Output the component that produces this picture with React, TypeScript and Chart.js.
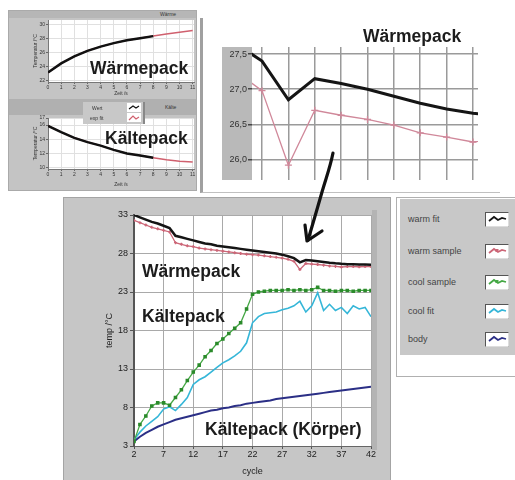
import React, { useEffect, useRef } from "react";
import { Chart, registerables } from "chart.js";

Chart.register(...registerables);

// ---------- main chart data (cycle 2..42) ----------
const cycles = [2, 3, 4, 5, 6, 7, 8, 9, 10, 11, 12, 13, 14, 15, 16, 17, 18, 19, 20, 21, 22, 23, 24, 25, 26, 27, 28, 29, 30, 31, 32, 33, 34, 35, 36, 37, 38, 39, 40, 41, 42];
const warmFit = [33.0, 32.7, 32.4, 32.1, 31.9, 31.6, 31.3, 30.3, 30.1, 29.9, 29.7, 29.5, 29.3, 29.2, 29.0, 28.9, 28.8, 28.7, 28.6, 28.5, 28.4, 28.3, 28.2, 28.1, 28.0, 27.85, 27.65, 27.4, 26.85, 27.15, 27.08, 27.0, 26.9, 26.8, 26.72, 26.66, 26.62, 26.6, 26.58, 26.56, 26.55];
const warmSample = [32.3, 32.0, 31.7, 31.4, 31.2, 31.0, 30.8, 29.4, 29.2, 29.0, 28.9, 28.7, 28.6, 28.5, 28.4, 28.3, 28.2, 28.1, 28.0, 27.9, 27.85, 27.8, 27.7, 27.6, 27.5, 27.4, 27.25, 26.98, 25.92, 26.7, 26.63, 26.57, 26.49, 26.38, 26.32, 26.25, 26.3, 26.3, 26.28, 26.3, 26.3];
const coolSample = [3.6, 5.8, 6.9, 8.2, 8.6, 8.6, 8.3, 9.3, 10.3, 11.5, 12.6, 13.5, 14.6, 15.4, 16.3, 16.9, 17.6, 18.3, 19.0, 20.8, 22.7, 23.0, 23.1, 23.2, 23.2, 23.2, 23.3, 23.2, 23.3, 23.2, 23.3, 23.6, 23.2, 23.2, 23.1, 23.2, 23.2, 23.1, 23.2, 23.2, 23.2];
const coolFit = [3.8, 4.8, 5.6, 6.2, 6.8, 7.8, 8.1, 7.6, 8.4, 9.3, 11.0, 11.6, 12.0, 12.6, 13.2, 13.8, 14.2, 14.7, 15.3, 16.4, 19.0, 19.8, 20.2, 20.3, 20.4, 20.7, 20.9, 21.2, 21.8, 20.4, 21.2, 22.9, 20.6, 21.4, 20.6, 21.0, 20.2, 21.2, 20.8, 21.0, 19.8];
const body = [3.6, 4.2, 4.7, 5.1, 5.5, 5.8, 6.1, 6.4, 6.6, 6.8, 7.0, 7.2, 7.4, 7.6, 7.7, 7.9, 8.0, 8.2, 8.3, 8.5, 8.6, 8.7, 8.8, 8.9, 9.1, 9.2, 9.3, 9.4, 9.5, 9.6, 9.7, 9.8, 9.9, 10.0, 10.1, 10.2, 10.3, 10.4, 10.5, 10.6, 10.7];
const mainXTicks = [2, 7, 12, 17, 22, 27, 32, 37, 42];
const mainYTicks = [3, 8, 13, 18, 23, 28, 33];

// ---------- zoomed warm chart ----------
const zoomXTicks = [29, 30, 31, 32, 33, 34, 35, 36, 37];
const zoomYTicks = [26.0, 26.5, 27.0, 27.5];

// ---------- small top-left charts (time /s) ----------
const timeS = [0, 1, 2, 3, 4, 5, 6, 7, 8, 9, 10, 11];
const warmMeas = [23.2, 24.5, 25.5, 26.3, 26.9, 27.4, 27.8, 28.1, 28.4];
const warmExp = [23.2, 24.5, 25.5, 26.3, 26.9, 27.4, 27.8, 28.1, 28.4, 28.7, 28.95, 29.2];
const coolMeas = [15.9, 15.0, 14.2, 13.6, 13.1, 12.5, 12.0, 11.7, 11.4];
const coolExp = [15.9, 15.0, 14.2, 13.6, 13.1, 12.5, 12.0, 11.7, 11.4, 11.1, 10.9, 10.8];
const warmYTicks = [22, 24, 26, 28, 30];
const coolYTicks = [10, 12, 14, 16, 17];

// ---------- legend ----------
const seriesLabels = ["warm fit", "warm sample", "cool sample", "cool fit", "body"];
const seriesColors = ["#151515", "#cc6677", "#45a845", "#35b6d8", "#2b2f86"];

const pts = (xs: number[], ys: number[]) => ys.map((y, i) => ({ x: xs[i], y }));
const setTicks = (vals: number[]) => (s: any) => {
  s.ticks = vals.map((v) => ({ value: v }));
};

const bgPlugin = {
  id: "bgPlugin",
  beforeDraw(chart: any, _a: any, opts: any) {
    const { ctx, chartArea: a } = chart;
    ctx.save();
    if (opts.band) {
      ctx.fillStyle = opts.band;
      ctx.fillRect(a.left - opts.bandWidth, a.top, opts.bandWidth, a.bottom - a.top);
    }
    if (opts.plot) {
      ctx.fillStyle = opts.plot;
      ctx.fillRect(a.left, a.top, a.right - a.left, a.bottom - a.top);
    }
    ctx.restore();
  },
};

function ChartCanvas(props: { left: number; top: number; width: number; height: number; make: () => any }) {
  const ref = useRef<HTMLCanvasElement>(null);
  useEffect(() => {
    const chart = new Chart(ref.current as HTMLCanvasElement, props.make());
    return () => chart.destroy();
  }, []);
  return (
    <canvas
      ref={ref}
      width={props.width}
      height={props.height}
      style={{ position: "absolute", left: props.left, top: props.top, width: props.width, height: props.height }}
    />
  );
}

const tickFont = { family: "'Liberation Sans', Arial, sans-serif", size: 9 };

function mainConfig() {
  return {
    type: "line",
    data: {
      datasets: [
        { label: seriesLabels[0], data: pts(cycles, warmFit), borderColor: seriesColors[0], borderWidth: 2.5, pointRadius: 0 },
        { label: seriesLabels[1], data: pts(cycles, warmSample), borderColor: seriesColors[1], borderWidth: 1.3, pointRadius: 1.5, pointStyle: "cross", pointBorderColor: seriesColors[1] },
        { label: seriesLabels[2], data: pts(cycles, coolSample), borderColor: seriesColors[2], borderWidth: 1.3, pointRadius: 1.6, pointStyle: "rect", pointBackgroundColor: "#2b8a2b", pointBorderColor: "#2b8a2b" },
        { label: seriesLabels[3], data: pts(cycles, coolFit), borderColor: seriesColors[3], borderWidth: 1.6, pointRadius: 0 },
        { label: seriesLabels[4], data: pts(cycles, body), borderColor: seriesColors[4], borderWidth: 2, pointRadius: 0 },
      ],
    },
    plugins: [bgPlugin],
    options: {
      animation: false,
      responsive: false,
      devicePixelRatio: 1,
      layout: { padding: { left: 36, top: 18, right: 19, bottom: 0 } },
      plugins: { legend: { display: false }, tooltip: { enabled: false }, bgPlugin: { plot: "#ffffff" } },
      scales: {
        x: {
          type: "linear",
          min: 2,
          max: 42,
          afterBuildTicks: setTicks(mainXTicks),
          afterFit: (s: any) => { s.height = 34; },
          ticks: { font: tickFont, color: "#222", padding: 0, maxRotation: 0, autoSkip: false },
          grid: { color: "#a9a9a9", lineWidth: 1, tickLength: 3, tickColor: "#555" },
          border: { color: "#666", width: 1 },
          title: { display: true, text: "cycle", font: tickFont, color: "#222", padding: { top: 0, bottom: 3 } },
        },
        y: {
          type: "linear",
          min: 3,
          max: 33,
          afterBuildTicks: setTicks(mainYTicks),
          afterFit: (s: any) => { s.width = 35; },
          ticks: { font: tickFont, color: "#222", padding: 2 },
          grid: { color: "#a9a9a9", lineWidth: 1, tickLength: 4, tickColor: "#555" },
          border: { color: "#555", width: 2 },
          title: { display: true, text: "temp /°C", font: tickFont, color: "#222", padding: { top: 5, bottom: 0 } },
        },
      },
    },
  };
}

function zoomConfig() {
  return {
    type: "line",
    data: {
      datasets: [
        { label: seriesLabels[0], data: pts(cycles, warmFit), borderColor: "#151515", borderWidth: 3, pointRadius: 0 },
        { label: seriesLabels[1], data: pts(cycles, warmSample), borderColor: "#d0889a", borderWidth: 1.3, pointRadius: 3.5, pointStyle: "cross", pointBorderColor: "#d0889a", pointBorderWidth: 1.3 },
      ],
    },
    plugins: [bgPlugin],
    options: {
      animation: false,
      responsive: false,
      devicePixelRatio: 1,
      layout: { padding: { left: 19, top: 27, right: 22, bottom: 0 } },
      plugins: { legend: { display: false }, tooltip: { enabled: false }, bgPlugin: { band: "#b9b9b9", bandWidth: 30 } },
      scales: {
        x: {
          type: "linear",
          min: 28.62,
          max: 37.19,
          afterBuildTicks: setTicks(zoomXTicks),
          afterFit: (s: any) => { s.height = 11; },
          ticks: { display: false },
          grid: { color: "#9a9a9a", lineWidth: 1.5, drawTicks: false },
          border: { display: false },
        },
        y: {
          type: "linear",
          min: 25.71,
          max: 27.6,
          afterBuildTicks: setTicks(zoomYTicks),
          afterFit: (s: any) => { s.width = 30; },
          ticks: { font: { family: "'Liberation Sans', Arial, sans-serif", size: 9 }, color: "#333", padding: 1, callback: (v: any) => Number(v).toFixed(1).replace(".", ",") },
          grid: { color: "#9a9a9a", lineWidth: 1.5, tickLength: 4, tickColor: "#444" },
          border: { display: false },
        },
      },
    },
  };
}

const smallFont = { family: "'Liberation Sans', Arial, sans-serif", size: 5 };

function smallConfig(meas: number[], exp: number[], yMin: number, yMax: number, yTicks: number[], topPad: number, xH: number) {
  return () => ({
    type: "line",
    data: {
      datasets: [
        { label: "Wert", data: pts(timeS, meas), borderColor: "#111", borderWidth: 2.5, pointRadius: 0 },
        { label: "exp fit", data: pts(timeS, exp), borderColor: "#d0606e", borderWidth: 1.5, pointRadius: 0 },
      ],
    },
    plugins: [bgPlugin],
    options: {
      animation: false,
      responsive: false,
      devicePixelRatio: 1,
      layout: { padding: { left: 24, top: topPad, right: 3, bottom: 0 } },
      plugins: { legend: { display: false }, tooltip: { enabled: false }, bgPlugin: { plot: "#ffffff" } },
      scales: {
        x: {
          type: "linear",
          min: 0,
          max: 11.1,
          afterBuildTicks: setTicks(timeS),
          afterFit: (s: any) => { s.height = xH; },
          ticks: { font: smallFont, color: "#333", padding: 1, maxRotation: 0, autoSkip: false },
          grid: { color: "#e0e0e0", lineWidth: 1, tickLength: 2, tickColor: "#666" },
          border: { color: "#777" },
          title: { display: true, text: "Zeit /s", font: smallFont, color: "#333", padding: { top: 1, bottom: 3 } },
        },
        y: {
          type: "linear",
          min: yMin,
          max: yMax,
          afterBuildTicks: setTicks(yTicks),
          afterFit: (s: any) => { s.width = 16; },
          ticks: { font: smallFont, color: "#333", padding: 1 },
          grid: { color: "#e0e0e0", lineWidth: 1, tickLength: 2, tickColor: "#666" },
          border: { color: "#777" },
          title: { display: true, text: "Temperatur /°C", font: smallFont, color: "#333", padding: { top: 1, bottom: 0 } },
        },
      },
    },
  });
}

const annot: React.CSSProperties = {
  position: "absolute",
  fontFamily: "'Liberation Sans', Arial, sans-serif",
  fontWeight: 700,
  fontSize: 17.5,
  color: "#1c1c1c",
  whiteSpace: "nowrap",
  lineHeight: 1,
};

function LegendIcon({ color, marker }: { color: string; marker?: boolean }) {
  return (
    <svg width={24} height={15} style={{ position: "absolute", left: 86, top: -2 }}>
      <rect x={0.5} y={0.5} width={23} height={14} fill="#fff" stroke="#555" strokeWidth={1} />
      <line x1={0.5} y1={14.5} x2={23.5} y2={14.5} stroke="#ddd" />
      <line x1={23.5} y1={0.5} x2={23.5} y2={14.5} stroke="#ddd" />
      <polyline points="4,9 9,5 13,8 17,6 21,7" fill="none" stroke={color} strokeWidth={1.8} />
      {marker ? <rect x={10.5} y={5} width={3} height={3} fill={color} /> : null}
    </svg>
  );
}

export default function App() {
  const legendRows = [220, 252, 283, 312, 340];
  return (
    <div style={{ position: "absolute", left: 0, top: 0, width: 515, height: 480, background: "#fff", overflow: "hidden" }}>
      {/* top-left panel */}
      <div style={{ position: "absolute", left: 8, top: 10, width: 189, height: 181, background: "#c4c4c4", border: "1px solid #aaa", boxSizing: "border-box" }} />
      <div style={{ position: "absolute", left: 9, top: 11, width: 187, height: 7, background: "#b6b6b6" }} />
      <div style={{ position: "absolute", left: 160, top: 11, fontSize: 5, fontFamily: "'Liberation Sans', Arial", color: "#333" }}>Wärme</div>
      <div style={{ position: "absolute", left: 9, top: 99, width: 187, height: 16, background: "#b0b0b0" }} />
      <div style={{ position: "absolute", left: 165, top: 104, fontSize: 5, fontFamily: "'Liberation Sans', Arial", color: "#333" }}>Kälte</div>
      <ChartCanvas left={8} top={10} width={189} height={90} make={smallConfig(warmMeas, warmExp, 21.85, 30.7, warmYTicks, 10, 18)} />
      <ChartCanvas left={8} top={100} width={189} height={91} make={smallConfig(coolMeas, coolExp, 9.8, 17, coolYTicks, 18, 22)} />
      <div style={{ ...annot, left: 90, top: 60 }}>Wärmepack</div>
      <div style={{ ...annot, left: 105, top: 130 }}>Kältepack</div>
      {/* small legend box */}
      <div style={{ position: "absolute", left: 83, top: 102, width: 62, height: 22, background: "#c8c8c8", borderRight: "2px solid #888", boxSizing: "border-box", fontFamily: "'Liberation Sans', Arial", fontSize: 5, color: "#333" }}>
        <div style={{ position: "absolute", left: 9, top: 3 }}>Wert</div>
        <div style={{ position: "absolute", left: 7, top: 13 }}>exp fit</div>
        <svg width={14} height={20} style={{ position: "absolute", left: 44, top: 1 }}>
          <rect x={0} y={0} width={14} height={9} fill="#fff" />
          <rect x={0} y={10} width={14} height={9} fill="#fff" />
          <polyline points="2,6 6,3 9,5 12,3" fill="none" stroke="#111" strokeWidth={1.2} />
          <polyline points="2,17 6,13 9,16 12,14" fill="none" stroke="#d0606e" strokeWidth={1.2} />
        </svg>
      </div>

      {/* top-right zoom chart */}
      <div style={{ position: "absolute", left: 200, top: 18, width: 300, height: 175, borderLeft: "3px solid #a0a0a0", borderBottom: "1px solid #c0c0c0", boxSizing: "border-box" }} />
      <ChartCanvas left={203} top={20} width={297} height={171} make={zoomConfig} />
      <div style={{ ...annot, left: 363, top: 28 }}>Wärmepack</div>

      {/* main panel */}
      <div style={{ position: "absolute", left: 63, top: 197, width: 328, height: 290, background: "#c6c6c6", border: "1px solid #a4a4a4", boxSizing: "border-box" }} />
      <div style={{ position: "absolute", left: 372, top: 210, width: 5, height: 240, background: "#b4b4b4" }} />
      <ChartCanvas left={63} top={197} width={327} height={283} make={mainConfig} />
      <div style={{ ...annot, left: 142, top: 263 }}>Wärmepack</div>
      <div style={{ ...annot, left: 142, top: 308 }}>Kältepack</div>
      <div style={{ ...annot, left: 205, top: 421 }}>Kältepack (Körper)</div>

      {/* legend panel */}
      <div style={{ position: "absolute", left: 396, top: 197, width: 125, height: 180, border: "1px solid #b0b0b0", background: "#fff", boxSizing: "border-box" }} />
      <div style={{ position: "absolute", left: 400, top: 199, width: 120, height: 156, background: "#c8c8c8" }} />
      {seriesLabels.map((lab, i) => (
        <div key={lab} style={{ position: "absolute", left: 399, top: legendRows[i] - 6, width: 116, height: 14, fontFamily: "'Liberation Sans', Arial, sans-serif", fontSize: 9, color: "#444" }}>
          <span style={{ position: "absolute", left: 9, top: 0 }}>{lab}</span>
          <LegendIcon color={seriesColors[i]} marker={i === 1 || i === 2} />
        </div>
      ))}

      {/* hand drawn arrow */}
      <svg width={515} height={480} style={{ position: "absolute", left: 0, top: 0, pointerEvents: "none" }}>
        <path d="M333,153 C330,168 326,178 322,192 C318,206 314,220 308,240" fill="none" stroke="#111" strokeWidth={3.2} strokeLinecap="round" />
        <path d="M305,225 L307,241 L322,231" fill="none" stroke="#111" strokeWidth={3.2} strokeLinecap="round" strokeLinejoin="round" />
      </svg>
    </div>
  );
}
